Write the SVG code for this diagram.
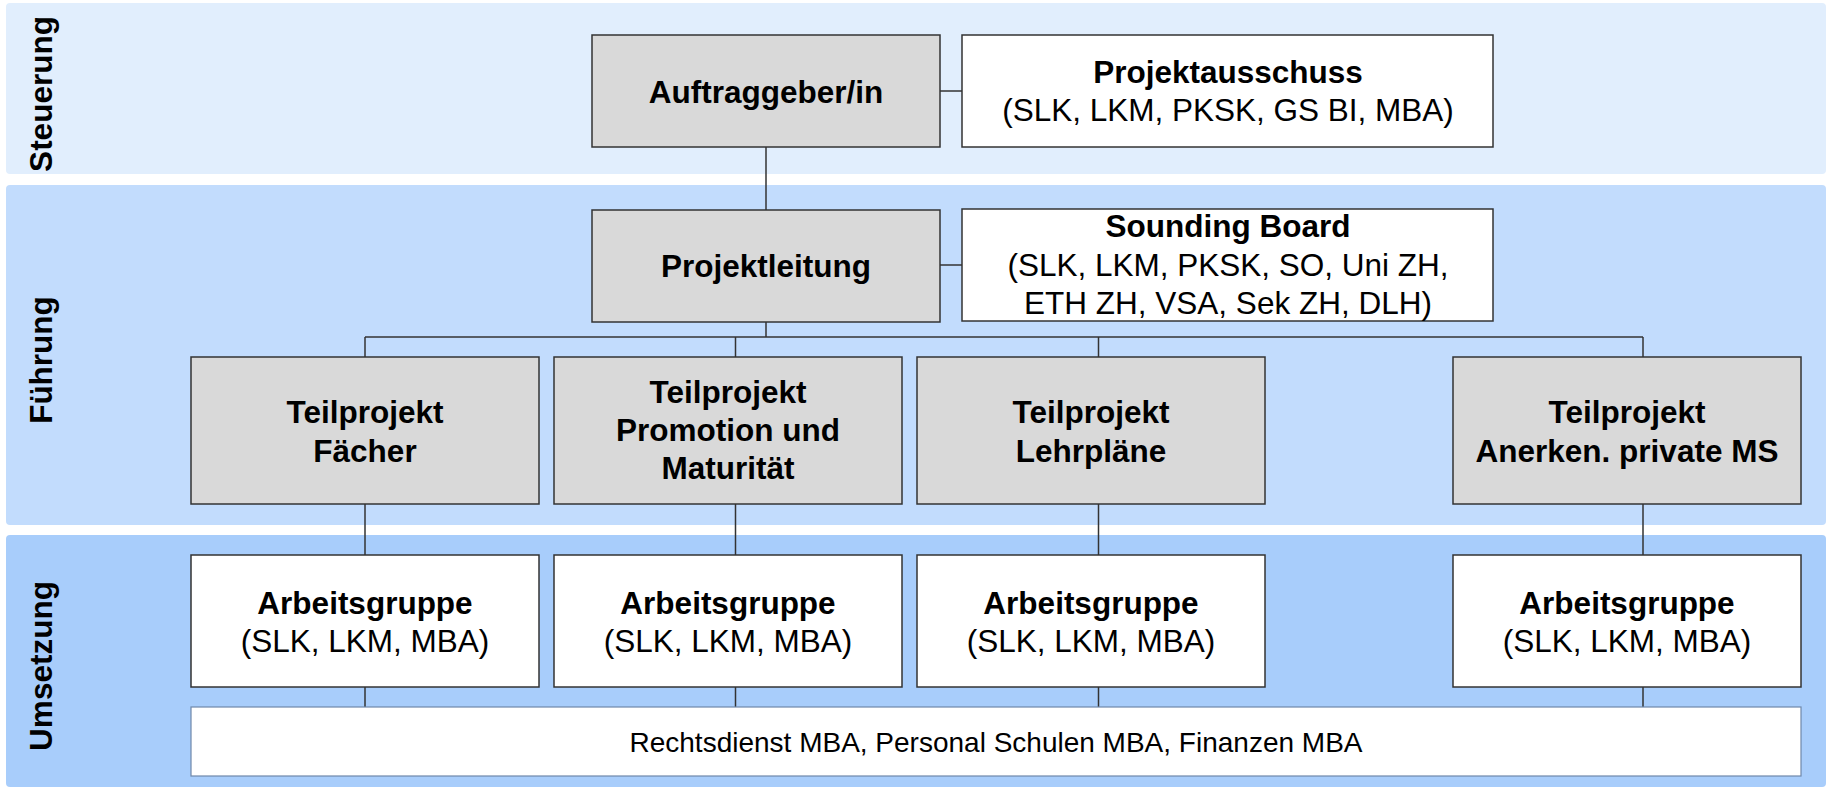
<svg xmlns="http://www.w3.org/2000/svg" width="1833" height="790" viewBox="0 0 1833 790">
<style>
text{font-family:"Liberation Sans",Arial,sans-serif;fill:#000;text-anchor:middle}
.b{font-weight:bold;font-size:31.5px}
.r{font-size:31.5px}
.s{font-size:28px}
.lbl{font-weight:bold;font-size:31.5px}
.grey{fill:#d9d9d9;stroke:#333;stroke-width:1.5}
.white{fill:#fff;stroke:#333;stroke-width:1.5}
.con{fill:none;stroke:#333;stroke-width:1.5}
</style>
<rect width="1833" height="790" fill="#fff"/>
<g id="bands">
<rect x="6" y="3" width="1820" height="171" rx="4" fill="#e1eefd"/>
<rect x="6" y="185" width="1820" height="340" rx="4" fill="#c2dcfd"/>
<rect x="6" y="535" width="1820" height="252" rx="4" fill="#a8cdfb"/>
<text class="lbl" transform="translate(52,94) rotate(-90)">Steuerung</text>
<text class="lbl" transform="translate(52,360) rotate(-90)">Führung</text>
<text class="lbl" transform="translate(52,666) rotate(-90)">Umsetzung</text>
</g>
<g id="connectors">
<line class="con" x1="940" y1="91" x2="962" y2="91"/>
<line class="con" x1="766" y1="147" x2="766" y2="210"/>
<line class="con" x1="940" y1="265" x2="962" y2="265"/>
<polyline class="con" points="766,322 766,337"/>
<line class="con" x1="365" y1="337" x2="1643" y2="337"/>
<line class="con" x1="365" y1="337" x2="365" y2="357"/>
<line class="con" x1="735.5" y1="337" x2="735.5" y2="357"/>
<line class="con" x1="1098.5" y1="337" x2="1098.5" y2="357"/>
<line class="con" x1="1643" y1="337" x2="1643" y2="357"/>
<line class="con" x1="365" y1="504" x2="365" y2="555"/>
<line class="con" x1="735.5" y1="504" x2="735.5" y2="555"/>
<line class="con" x1="1098.5" y1="504" x2="1098.5" y2="555"/>
<line class="con" x1="1643" y1="504" x2="1643" y2="555"/>
<line class="con" x1="365" y1="687" x2="365" y2="707"/>
<line class="con" x1="735.5" y1="687" x2="735.5" y2="707"/>
<line class="con" x1="1098.5" y1="687" x2="1098.5" y2="707"/>
<line class="con" x1="1643" y1="687" x2="1643" y2="707"/>
</g>
<g id="auftraggeber">
<rect class="grey" x="592" y="35" width="348" height="112"/>
<text class="b" x="766" y="103">Auftraggeber/in</text>
</g>
<g id="projektausschuss">
<rect class="white" x="962" y="35" width="531" height="112"/>
<text class="b" x="1228" y="83">Projektausschuss</text>
<text class="r" x="1228" y="121">(SLK, LKM, PKSK, GS BI, MBA)</text>
</g>
<g id="projektleitung">
<rect class="grey" x="592" y="210" width="348" height="112"/>
<text class="b" x="766" y="277">Projektleitung</text>
</g>
<g id="soundingboard">
<rect class="white" x="962" y="209" width="531" height="112"/>
<text class="b" x="1228" y="237">Sounding Board</text>
<text class="r" x="1228" y="276">(SLK, LKM, PKSK, SO, Uni ZH,</text>
<text class="r" x="1228" y="314">ETH ZH, VSA, Sek ZH, DLH)</text>
</g>
<g id="tp-faecher">
<rect class="grey" x="191" y="357" width="348" height="147"/>
<text class="b" x="365" y="423">Teilprojekt</text>
<text class="b" x="365" y="462">Fächer</text>
</g>
<g id="tp-promotion">
<rect class="grey" x="554" y="357" width="348" height="147"/>
<text class="b" x="728" y="403">Teilprojekt</text>
<text class="b" x="728" y="441">Promotion und</text>
<text class="b" x="728" y="479">Maturität</text>
</g>
<g id="tp-lehrplaene">
<rect class="grey" x="917" y="357" width="348" height="147"/>
<text class="b" x="1091" y="423">Teilprojekt</text>
<text class="b" x="1091" y="462">Lehrpläne</text>
</g>
<g id="tp-anerken">
<rect class="grey" x="1453" y="357" width="348" height="147"/>
<text class="b" x="1627" y="423">Teilprojekt</text>
<text class="b" x="1627" y="462">Anerken. private MS</text>
</g>
<g id="ag1">
<rect class="white" x="191" y="555" width="348" height="132"/>
<text class="b" x="365" y="614">Arbeitsgruppe</text>
<text class="r" x="365" y="652">(SLK, LKM, MBA)</text>
</g>
<g id="ag2">
<rect class="white" x="554" y="555" width="348" height="132"/>
<text class="b" x="728" y="614">Arbeitsgruppe</text>
<text class="r" x="728" y="652">(SLK, LKM, MBA)</text>
</g>
<g id="ag3">
<rect class="white" x="917" y="555" width="348" height="132"/>
<text class="b" x="1091" y="614">Arbeitsgruppe</text>
<text class="r" x="1091" y="652">(SLK, LKM, MBA)</text>
</g>
<g id="ag4">
<rect class="white" x="1453" y="555" width="348" height="132"/>
<text class="b" x="1627" y="614">Arbeitsgruppe</text>
<text class="r" x="1627" y="652">(SLK, LKM, MBA)</text>
</g>
<g id="dienste">
<rect x="191" y="707" width="1610" height="69" fill="#fff" stroke="#6f88aa" stroke-width="1.2"/>
<text class="s" x="996" y="752">Rechtsdienst MBA, Personal Schulen MBA, Finanzen MBA</text>
</g>
</svg>
